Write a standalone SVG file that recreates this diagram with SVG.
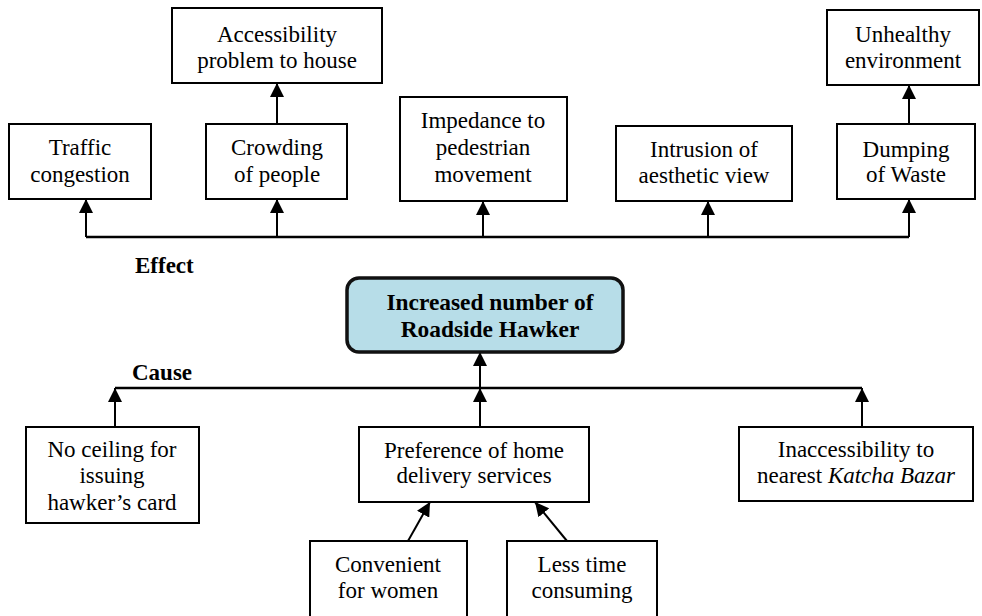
<svg xmlns="http://www.w3.org/2000/svg" width="982" height="616" viewBox="0 0 982 616">
<style>
.box{fill:#fff;stroke:#000;stroke-width:2}
.main{fill:#b7dde8;stroke:#111;stroke-width:3.5}
text{font-family:"Liberation Serif","Times New Roman",serif;font-size:23px;fill:#000;text-anchor:middle}
.b{font-weight:bold;font-size:23.4px}
.lbl{text-anchor:start;font-weight:bold;font-size:23px}
.c{fill:none;stroke:#000;stroke-width:2}
.bus{fill:none;stroke:#000;stroke-width:2.5}
</style>
<defs>
<marker id="ah" viewBox="0 0 14 14" refX="14" refY="7" markerWidth="14" markerHeight="14" markerUnits="userSpaceOnUse" orient="auto">
<path d="M0,0 L14,7 L0,14 z" fill="#000"/>
</marker>
</defs>
<g id="connectors">
<path class="bus" d="M86,237 H909"/>
<path class="c" d="M86,237 V199" marker-end="url(#ah)"/>
<path class="c" d="M277,237 V199" marker-end="url(#ah)"/>
<path class="c" d="M483,237 V201" marker-end="url(#ah)"/>
<path class="c" d="M708,237 V201" marker-end="url(#ah)"/>
<path class="c" d="M909,237 V199" marker-end="url(#ah)"/>
<path class="c" d="M277,124 V83" marker-end="url(#ah)"/>
<path class="c" d="M909,124 V85" marker-end="url(#ah)"/>
<path class="bus" d="M115,388 H862"/>
<path class="c" d="M480,388 V352" marker-end="url(#ah)"/>
<path class="c" d="M115,427 V388" marker-end="url(#ah)"/>
<path class="c" d="M480,427 V388" marker-end="url(#ah)"/>
<path class="c" d="M862,427 V388" marker-end="url(#ah)"/>
<path class="c" d="M408,541 L430,502" marker-end="url(#ah)"/>
<path class="c" d="M567,541 L535,502" marker-end="url(#ah)"/>
</g>
<g id="accessibility"><rect class="box" x="172" y="8" width="210" height="75"/><text x="277" y="42">Accessibility</text><text x="277" y="68">problem to house</text></g>
<g id="traffic"><rect class="box" x="9" y="124" width="142" height="75"/><text x="80" y="155">Traffic</text><text x="80" y="182">congestion</text></g>
<g id="crowding"><rect class="box" x="206" y="124" width="141" height="75"/><text x="277" y="155">Crowding</text><text x="277" y="182">of people</text></g>
<g id="impedance"><rect class="box" x="400" y="97" width="167" height="104"/><text x="483" y="128">Impedance to</text><text x="483" y="155">pedestrian</text><text x="483" y="182">movement</text></g>
<g id="intrusion"><rect class="box" x="616" y="126" width="176" height="75"/><text x="704" y="157">Intrusion of</text><text x="704" y="183">aesthetic view</text></g>
<g id="dumping"><rect class="box" x="837" y="124" width="138" height="75"/><text x="906" y="157">Dumping</text><text x="906" y="182">of Waste</text></g>
<g id="unhealthy"><rect class="box" x="827" y="10" width="152" height="75"/><text x="903" y="42">Unhealthy</text><text x="903" y="68">environment</text></g>
<g id="effect"><text class="lbl" x="135" y="273">Effect</text></g>
<g id="cause"><text class="lbl" x="132" y="380">Cause</text></g>
<g id="hawker"><rect class="main" x="347" y="278" width="276" height="74" rx="12" ry="12"/><text class="b" x="490" y="310">Increased number of</text><text class="b" x="490" y="337">Roadside Hawker</text></g>
<g id="ceiling"><rect class="box" x="26" y="427" width="173" height="96"/><text x="112" y="457">No ceiling for</text><text x="112" y="483">issuing</text><text x="112" y="510">hawker’s card</text></g>
<g id="preference"><rect class="box" x="359" y="427" width="230" height="75"/><text x="474" y="458">Preference of home</text><text x="474" y="483">delivery services</text></g>
<g id="inaccessibility"><rect class="box" x="739" y="427" width="234" height="74"/><text x="856" y="457">Inaccessibility to</text><text x="856" y="483">nearest <tspan font-style="italic">Katcha Bazar</tspan></text></g>
<g id="convenient"><rect class="box" x="310" y="541" width="157" height="80"/><text x="388" y="572">Convenient</text><text x="388" y="598">for women</text></g>
<g id="lesstime"><rect class="box" x="507" y="541" width="150" height="80"/><text x="582" y="572">Less time</text><text x="582" y="598">consuming</text></g>
</svg>
